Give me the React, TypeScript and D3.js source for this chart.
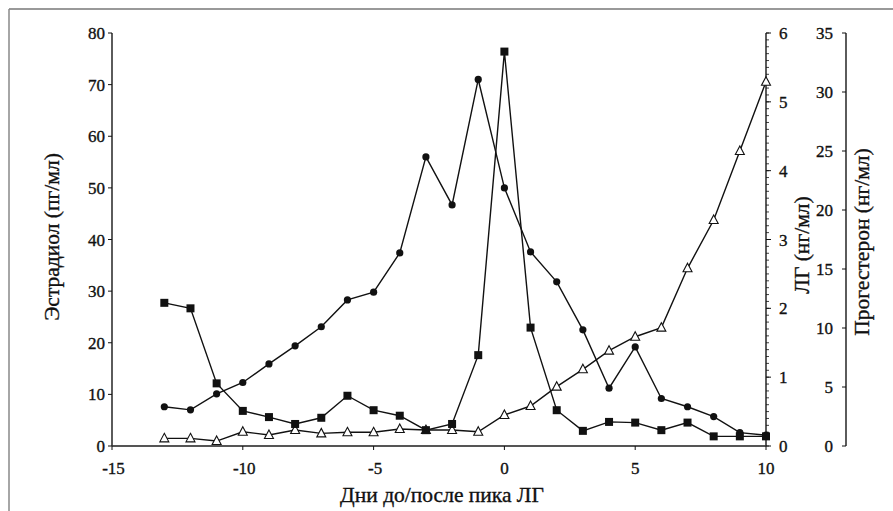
import React from "react";
import * as d3 from "d3";

const days = [-13, -12, -11, -10, -9, -8, -7, -6, -5, -4, -3, -2, -1, 0, 1, 2, 3, 4, 5, 6, 7, 8, 9, 10];
const estradiol = [7.6, 7.0, 10.1, 12.3, 15.9, 19.4, 23.1, 28.3, 29.8, 37.4, 56.0, 46.7, 71.0, 50.0, 37.6, 31.8, 22.5, 11.2, 19.2, 9.2, 7.6, 5.7, 2.6, 2.1];
const lh = [2.08, 2.0, 0.91, 0.51, 0.42, 0.32, 0.41, 0.73, 0.52, 0.44, 0.23, 0.32, 1.32, 5.73, 1.72, 0.52, 0.22, 0.35, 0.34, 0.23, 0.34, 0.14, 0.14, 0.14];
const progesterone = [0.65, 0.65, 0.42, 1.21, 0.93, 1.36, 1.07, 1.16, 1.16, 1.44, 1.35, 1.36, 1.21, 2.63, 3.39, 5.03, 6.5, 8.08, 9.26, 10.03, 15.06, 19.15, 25.0, 30.87];

const xTicks = [-15, -10, -5, 0, 5, 10];
const eTicks = [0, 10, 20, 30, 40, 50, 60, 70, 80];
const lhTicks = [0, 1, 2, 3, 4, 5, 6];
const pTicks = [0, 5, 10, 15, 20, 25, 30, 35];

const xTitle = "Дни до/после пика ЛГ";
const eTitle = "Эстрадиол (пг/мл)";
const lhTitle = "ЛГ (нг/мл)";
const pTitle = "Прогестерон (нг/мл)";

export default function App() {
  const W = 893, H = 511;
  const x = d3.scaleLinear().domain([-15, 10]).range([112, 766]);
  const yE = d3.scaleLinear().domain([0, 80]).range([446, 33]);
  const yL = d3.scaleLinear().domain([0, 6]).range([446, 33]);
  const yP = d3.scaleLinear().domain([0, 35]).range([446, 33]);
  const font = "'Liberation Serif', 'DejaVu Serif', serif";
  const lineGen = (ys: d3.ScaleLinear<number, number>, vals: number[]) =>
    d3.line<number>().x((_, i) => x(days[i])).y((v) => ys(v))(vals) || "";
  const lhMinor = d3.range(0, 61).map((i) => i / 10);
  const ink = "#111";
  const txt = { fill: ink, stroke: ink, strokeWidth: 0.35 };
  const tickFs = 17;
  const titleFs = 21.5;

  return (
    <svg width={W} height={H} style={{ position: "absolute", left: 0, top: 0, background: "#fff" }} fontFamily={font}>
      {/* frame */}
      <line x1={9} y1={9} x2={W} y2={9} stroke="#777" strokeWidth={1.5} />
      <line x1={9} y1={9} x2={9} y2={H} stroke="#888" strokeWidth={1.5} />

      {/* x axis */}
      <line x1={x(-15)} y1={446} x2={x(10)} y2={446} stroke="#555" strokeWidth={1.8} />
      {xTicks.map((t) => (
        <g key={"xt" + t}>
          <line x1={x(t)} x2={x(t)} y1={446} y2={450} stroke={ink} />
          <text x={x(t) + (t < 0 ? 1.5 : 0)} y={474} fontSize={tickFs} textAnchor="middle" {...txt}>{t}</text>
        </g>
      ))}
      <text x={442} y={502} fontSize={titleFs} textAnchor="middle" {...txt}>{xTitle}</text>

      {/* left axis */}
      <line x1={112} x2={112} y1={yE(80)} y2={yE(0)} stroke="#333" strokeWidth={1.6} />
      {eTicks.map((t) => (
        <g key={"et" + t}>
          <line x1={108} x2={112} y1={yE(t)} y2={yE(t)} stroke={ink} />
          <text x={105} y={yE(t) + 6} fontSize={tickFs} textAnchor="end" {...txt}>{t}</text>
        </g>
      ))}
      <text transform={`translate(59,237) rotate(-90)`} fontSize={titleFs} textAnchor="middle" {...txt}>{eTitle}</text>

      {/* LH axis */}
      <line x1={766} x2={766} y1={yL(6)} y2={yL(0)} stroke="#333" strokeWidth={1.6} />
      {lhMinor.map((t) => (
        <line key={"lm" + t} x1={766} x2={769} y1={yL(t)} y2={yL(t)} stroke={ink} strokeWidth={0.8} />
      ))}
      {lhTicks.map((t) => (
        <g key={"lt" + t}>
          <line x1={766} x2={771} y1={yL(t)} y2={yL(t)} stroke={ink} />
          <text x={779} y={yL(t) + 6} fontSize={tickFs} textAnchor="start" {...txt}>{t}</text>
        </g>
      ))}
      <text transform={`translate(809,245) rotate(-90)`} fontSize={titleFs} textAnchor="middle" {...txt}>{lhTitle}</text>

      {/* Progesterone axis */}
      <line x1={846} x2={846} y1={yP(35)} y2={yP(0)} stroke="#333" strokeWidth={1.6} />
      {pTicks.map((t) => (
        <g key={"pt" + t}>
          <line x1={842} x2={846} y1={yP(t)} y2={yP(t)} stroke={ink} />
          <text x={833} y={yP(t) + 6} fontSize={tickFs} textAnchor="end" {...txt}>{t}</text>
        </g>
      ))}
      <text transform={`translate(869,242) rotate(-90)`} fontSize={titleFs} textAnchor="middle" {...txt}>{pTitle}</text>

      {/* series lines */}
      <path d={lineGen(yP, progesterone)} fill="none" stroke={ink} strokeWidth={1.4} />
      <path d={lineGen(yE, estradiol)} fill="none" stroke={ink} strokeWidth={1.4} />
      <path d={lineGen(yL, lh)} fill="none" stroke={ink} strokeWidth={1.4} />

      {/* markers */}
      {progesterone.map((v, i) => {
        const cx = x(days[i]), cy = yP(v);
        return (
          <path key={"pm" + i} d={`M${cx},${cy - 5}L${cx + 4.5},${cy + 3.5}L${cx - 4.5},${cy + 3.5}Z`} fill="#fff" stroke={ink} strokeWidth={1.1} />
        );
      })}
      {estradiol.map((v, i) => (
        <circle key={"em" + i} cx={x(days[i])} cy={yE(v)} r={3.6} fill={ink} />
      ))}
      {lh.map((v, i) => (
        <rect key={"lmk" + i} x={x(days[i]) - 4} y={yL(v) - 4} width={8} height={8} fill={ink} />
      ))}
    </svg>
  );
}
